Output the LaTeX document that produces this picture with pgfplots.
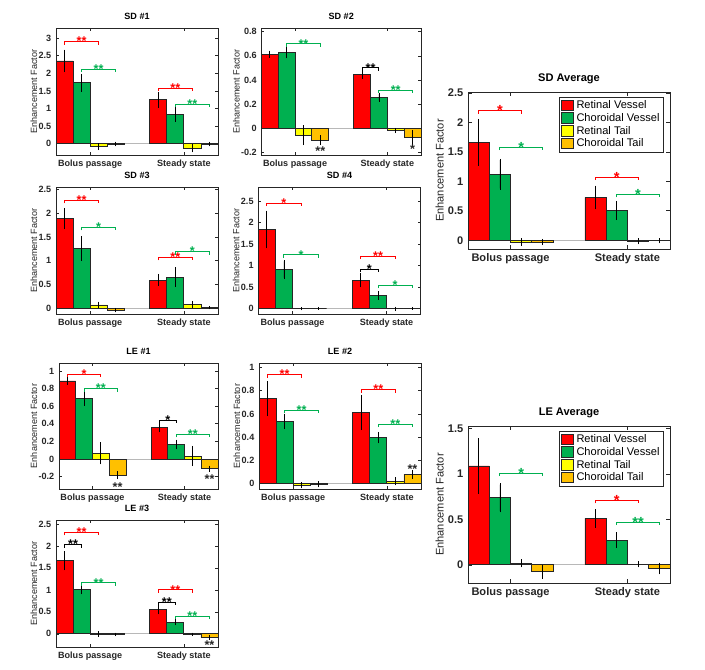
\documentclass[border=0pt]{standalone}
\usepackage{fontspec}
\setmainfont{Liberation Sans}
\usepackage{pgfplots}
\usepackage{pgfplotstable}
\pgfplotsset{compat=1.18}
\definecolor{cR}{RGB}{255,0,0}
\definecolor{cG}{RGB}{0,176,80}
\definecolor{cY}{RGB}{255,255,0}
\definecolor{cO}{RGB}{255,192,0}
\definecolor{cGb}{RGB}{0,176,80}
\definecolor{axc}{RGB}{38,38,38}
\newcommand\fsS{\fontsize{6.8pt}{7.6pt}\selectfont}
\newcommand\fsL{\fontsize{8.3pt}{9.4pt}\selectfont}

\pgfplotstableread{
x rv rve cv cve rt rte ct cte
1 2.355 0.285 1.73 0.22 -0.085 0.06 -0.01 0.03
2 1.25 0.19 0.835 0.165 -0.12 0.085 -0.01 0.03
}\tSDa
\pgfplotstableread{
x rv rve cv cve rt rte ct cte
1 0.615 0.018 0.629 0.039 -0.058 0.072 -0.1 0.03
2 0.449 0.029 0.258 0.027 -0.019 0.01 -0.075 0.05
}\tSDb
\pgfplotstableread{
x rv rve cv cve rt rte ct cte
1 1.885 0.19 1.257 0.23 0.07 0.04 -0.04 0.02
2 0.594 0.1 0.656 0.175 0.077 0.05 0.014 0.01
}\tSDc
\pgfplotstableread{
x rv rve cv cve rt rte ct cte
1 1.84 0.41 0.906 0.19 -0.005 0.01 0.0 0.005
2 0.658 0.135 0.30 0.07 -0.01 0.02 0.0 0.005
}\tSDd
\pgfplotstableread{
x rv rve cv cve rt rte ct cte
1 1.665 0.375 1.12 0.24 -0.03 0.04 -0.03 0.03
2 0.727 0.18 0.506 0.14 -0.02 0.03 -0.01 0.02
}\tSDavg
\pgfplotstableread{
x rv rve cv cve rt rte ct cte
1 0.887 0.028 0.684 0.066 0.064 0.11 -0.184 0.03
2 0.357 0.04 0.165 0.04 0.034 0.1 -0.11 0.02
}\tLEa
\pgfplotstableread{
x rv rve cv cve rt rte ct cte
1 0.73 0.14 0.535 0.055 -0.017 0.015 -0.01 0.015
2 0.612 0.14 0.394 0.038 0.017 0.025 0.078 0.027
}\tLEb
\pgfplotstableread{
x rv rve cv cve rt rte ct cte
1 1.66 0.187 1.0 0.07 -0.005 0.03 -0.01 0.01
2 0.564 0.09 0.267 0.04 -0.01 0.01 -0.084 0.03
}\tLEc
\pgfplotstableread{
x rv rve cv cve rt rte ct cte
1 1.09 0.29 0.738 0.145 0.018 0.03 -0.076 0.065
2 0.513 0.087 0.273 0.073 0.007 0.02 -0.04 0.05
}\tLEavg

\pgfplotsset{
  eb/.style={error bars/.cd, y dir=both, y explicit,
    error bar style={black, line width=0.6pt},
    error mark options={black, line width=0.6pt, mark size=1pt}},
  bb/.style={ybar, bar width=0.182, bar shift=0, draw=axc, line width=0.6pt},
  efbase/.style={
    scale only axis, anchor=north west,
    xmin=0.636, xmax=2.364,
    xtick={1,2}, xticklabels={Bolus passage, Steady state},
    tick align=inside, tick pos=both,
    axis line style={axc, line width=0.6pt},
    major tick style={axc, line width=0.5pt},
    /pgf/number format/assume math mode=true,
    scaled y ticks=false,
    ylabel={Enhancement Factor},
    clip=false,
  },
  efS/.style={efbase, major tick length=2.2pt,
    ticklabel style={font=\fsS\bfseries, text=axc},
    ylabel style={font=\fsS, text=axc, yshift=-5.8pt},
    title style={font=\fsS\bfseries, yshift=-3.5pt},
  },
  efL/.style={efbase, major tick length=3pt,
    ticklabel style={font=\fsL\bfseries, text=axc},
    ylabel style={font=\fsL, text=axc, yshift=-3.8pt},
    title style={font=\fsL\bfseries, yshift=-3.5pt},
    legend style={at={(0.97,0.968)}, anchor=north east, draw=axc, line width=0.6pt,
      font=\fsL, inner xsep=1pt, inner ysep=0.5pt, row sep=-2pt, cells={anchor=west}},
    legend image code/.code={\draw[##1, line width=0.6pt] (0pt,-3.6pt) rectangle (9pt,4.2pt);},
    legend entries={Retinal Vessel, Choroidal Vessel, Retinal Tail, Choroidal Tail},
  },
}
\newcommand\bars[1]{%
  \draw[black!28, line width=0.7pt] (axis cs:0.636,0) -- (axis cs:2.364,0);
  \addplot[bb, fill=cR, eb] table[x expr=\thisrow{x}-0.273, y=rv, y error=rve] {#1};
  \addplot[bb, fill=cG, eb] table[x expr=\thisrow{x}-0.091, y=cv, y error=cve] {#1};
  \addplot[bb, fill=cY, eb] table[x expr=\thisrow{x}+0.091, y=rt, y error=rte] {#1};
  \addplot[bb, fill=cO, eb] table[x expr=\thisrow{x}+0.273, y=ct, y error=cte] {#1};
}
% bracket: x1 x2 xmid y color text
\newcommand\brk[6]{%
  \draw[#5, line width=0.7pt] ([yshift=-2.2pt]axis cs:#1,#4) -- (axis cs:#1,#4) -- (axis cs:#2,#4) -- ([yshift=-2.2pt]axis cs:#2,#4);
  \node[text=#5, stars] at (axis cs:#3,#4) {#6};}
% lone stars: x y text (y = visual centre)
\newcommand\lst[3]{\node[text=axc, lstars] at (axis cs:#1,#2) {#3};}
% shortcuts: c=1 or 2
\newcommand\bR[3]{\brk{#1.727}{#2.091}{#1.909}{#3}{cR}}
\newcommand\bG[3]{\brk{#1.909}{#2.273}{#2.091}{#3}{cGb}}
\newcommand\bK[3]{\brk{#1.727}{#1.909}{#1.818}{#3}{black}}

\begin{document}
\begin{tikzpicture}
\useasboundingbox (0,0) rectangle (528.75pt,-501.75pt);
\fill[white] (0,0) rectangle (528.75pt,-501.75pt);

\tikzset{stars/.style={anchor=base, inner sep=0pt, yshift=-3.2pt, font=\fontsize{9.5pt}{10pt}\selectfont\bfseries},
  lstars/.style={anchor=base, inner sep=0pt, yshift=-5.5pt, font=\fontsize{9.5pt}{10pt}\selectfont\bfseries}}

% SD #1
\begin{axis}[efS, at={(42pt,-21pt)}, width=121.5pt, height=95.25pt,
  title={SD \#1}, ymin=-0.32, ymax=3.29, ytick={0,0.5,1,1.5,2,2.5,3}]
\bars{\tSDa}
\bR{0}{1}{2.9}{**}
\bG{0}{1}{2.12}{**}
\bR{1}{2}{1.58}{**}
\bG{1}{2}{1.12}{**}
\end{axis}

% SD #2
\begin{axis}[efS, at={(196.1pt,-21pt)}, width=119.6pt, height=95.25pt,
  title={SD \#2}, ymin=-0.222, ymax=0.831, ytick={-0.2,0,0.2,0.4,0.6,0.8}]
\bars{\tSDb}
\bG{0}{1}{0.70}{**}
\bK{1}{2}{0.50}{**}
\bG{1}{2}{0.313}{**}
\lst{1.273}{-0.166}{**}
\lst{2.273}{-0.15}{*}
\end{axis}

% SD #3
\begin{axis}[efS, at={(42pt,-140.25pt)}, width=121.5pt, height=95.25pt,
  title={SD \#3}, ymin=-0.12, ymax=2.55, ytick={0,0.5,1,1.5,2,2.5}]
\bars{\tSDc}
\bR{0}{1}{2.27}{**}
\bG{0}{1}{1.70}{*}
\bR{1}{2}{1.07}{**}
\bG{1}{2}{1.19}{*}
\end{axis}

% SD #4
\begin{axis}[efS, at={(193.7pt,-140.25pt)}, width=121.9pt, height=95.25pt,
  title={SD \#4}, ymin=-0.13, ymax=2.83, ytick={0,0.5,1,1.5,2,2.5}]
\bars{\tSDd}
\bR{0}{1}{2.45}{*}
\bG{0}{1}{1.25}{*}
\bK{1}{2}{0.906}{*}
\bR{1}{2}{1.215}{**}
\bG{1}{2}{0.534}{*}
\end{axis}

% LE #1
\begin{axis}[efS, at={(44.25pt,-272.25pt)}, width=119.25pt, height=94.5pt,
  title={LE \#1}, ymin=-0.34, ymax=1.09, ytick={-0.2,0,0.2,0.4,0.6,0.8,1}]
\bars{\tLEa}
\bR{0}{1}{0.96}{*}
\bG{0}{1}{0.80}{**}
\bK{1}{2}{0.44}{*}
\bG{1}{2}{0.28}{**}
\lst{1.273}{-0.28}{**}
\lst{2.273}{-0.19}{**}
\end{axis}

% LE #2
\begin{axis}[efS, at={(194.25pt,-272.25pt)}, width=121.5pt, height=94.5pt,
  title={LE \#2}, ymin=-0.05, ymax=1.04, ytick={0,0.2,0.4,0.6,0.8,1}]
\bars{\tLEb}
\bR{0}{1}{0.94}{**}
\bG{0}{1}{0.63}{**}
\bR{1}{2}{0.81}{**}
\bG{1}{2}{0.51}{**}
\lst{2.273}{0.15}{**}
\end{axis}

% LE #3
\begin{axis}[efS, at={(42pt,-390pt)}, width=121.5pt, height=95.25pt,
  title={LE \#3}, ymin=-0.3, ymax=2.59, ytick={0,0.5,1,1.5,2,2.5}]
\bars{\tLEc}
\bR{0}{1}{2.31}{**}
\bK{0}{1}{2.03}{**}
\bG{0}{1}{1.16}{**}
\bR{1}{2}{1.0}{**}
\bK{1}{2}{0.72}{**}
\bG{1}{2}{0.40}{**}
\lst{2.273}{-0.19}{**}
\end{axis}

\tikzset{stars/.style={anchor=base, inner sep=0pt, yshift=-3.8pt, font=\fontsize{11pt}{12pt}\selectfont\bfseries}}

% SD Average
\begin{axis}[efL, at={(351pt,-69pt)}, width=151.5pt, height=117.75pt,
  title={SD Average}, ymin=-0.15, ymax=2.52, ytick={0,0.5,1,1.5,2,2.5}]
\bars{\tSDavg}
\bR{0}{1}{2.2}{*}
\bG{0}{1}{1.58}{*}
\bR{1}{2}{1.07}{*}
\bG{1}{2}{0.78}{*}
\end{axis}

% LE Average
\begin{axis}[efL, at={(351pt,-319.5pt)}, width=151.5pt, height=117.75pt,
  title={LE Average}, ymin=-0.2, ymax=1.53, ytick={0,0.5,1,1.5}]
\bars{\tLEavg}
\bG{0}{1}{1.01}{*}
\bR{1}{2}{0.71}{*}
\bG{1}{2}{0.47}{**}
\end{axis}
\end{tikzpicture}
\end{document}
